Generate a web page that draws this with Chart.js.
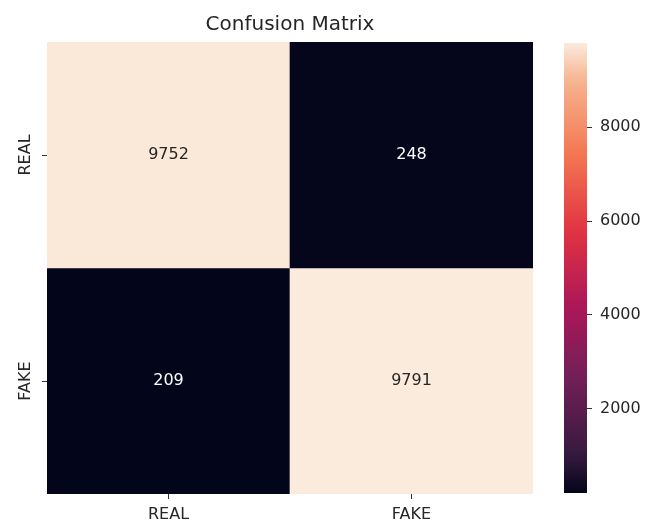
<!DOCTYPE html>
<html>
<head>
<meta charset="utf-8">
<script src="https://cdn.jsdelivr.net/npm/chart.js@4/dist/chart.umd.min.js"></script>
<style>
  html, body { margin: 0; padding: 0; background: #ffffff; }
  #wrap { position: relative; width: 657px; height: 524px; overflow: hidden; }
  #heat { position: absolute; left: 0; top: 0; }
  #cbar { position: absolute; left: 540px; top: 0; }
</style>
</head>
<body>
<div id="wrap">
  <canvas id="heat" width="580" height="524"></canvas>
  <canvas id="cbar" width="117" height="524"></canvas>
</div>
<script>
// Confusion matrix: rows = true class, columns = predicted class
const classLabels = ['REAL', 'FAKE'];
const rowReal = [9752, 248];
const rowFake = [209, 9791];
const matrixRows = [rowReal, rowFake];
const colorbarTicks = [2000, 4000, 6000, 8000];
const chartTitle = 'Confusion Matrix';

const FONT = "'DejaVu Sans', 'Liberation Sans', sans-serif";
const TEXT_DARK = '#262626';

const allValues = matrixRows.flat();
const vMin = Math.min(...allValues);
const vMax = Math.max(...allValues);

// "rocket" colour map stops
const rocketStops = [
  [0.000, [3, 5, 26]],
  [0.083, [53, 25, 62]],
  [0.250, [112, 31, 87]],
  [0.417, [173, 23, 89]],
  [0.583, [225, 51, 66]],
  [0.750, [243, 118, 81]],
  [0.917, [246, 180, 143]],
  [1.000, [250, 235, 221]]
];

function rocketRGB(t) {
  t = Math.max(0, Math.min(1, t));
  for (let i = 1; i < rocketStops.length; i++) {
    const [p1, c1] = rocketStops[i];
    const [p0, c0] = rocketStops[i - 1];
    if (t <= p1) {
      const f = (t - p0) / (p1 - p0);
      return c0.map((c, k) => Math.round(c + (c1[k] - c) * f));
    }
  }
  return rocketStops[rocketStops.length - 1][1];
}
const toCss = c => `rgb(${c[0]},${c[1]},${c[2]})`;
const norm = v => (v - vMin) / (vMax - vMin);

function luminance(c) {
  const lin = c.map(x => {
    x /= 255;
    return x <= 0.03928 ? x / 12.92 : Math.pow((x + 0.055) / 1.055, 2.4);
  });
  return 0.2126 * lin[0] + 0.7152 * lin[1] + 0.0722 * lin[2];
}

// One dataset per row; each cell is a floating bar spanning [row, row + 1]
const datasets = matrixRows.map((row, r) => ({
  label: classLabels[r],
  data: row.map(() => [r, r + 1]),
  values: row,
  backgroundColor: row.map(v => toCss(rocketRGB(norm(v)))),
  borderWidth: 0,
  barPercentage: 1,
  categoryPercentage: 1
}));

// Writes each cell's count at its centre
const cellLabels = {
  id: 'cellLabels',
  afterDatasetsDraw(chart) {
    const ctx = chart.ctx;
    ctx.save();
    ctx.font = `16px ${FONT}`;
    ctx.textAlign = 'center';
    ctx.textBaseline = 'middle';
    chart.data.datasets.forEach((ds, di) => {
      chart.getDatasetMeta(di).data.forEach((el, i) => {
        const v = ds.values[i];
        const c = rocketRGB(norm(v));
        ctx.fillStyle = luminance(c) > 0.408 ? TEXT_DARK : '#ffffff';
        const p = el.getCenterPoint();
        ctx.fillText(String(v), p.x, p.y);
      });
    });
    ctx.restore();
  }
};

new Chart(document.getElementById('heat'), {
  type: 'bar',
  data: { labels: classLabels, datasets },
  options: {
    responsive: false,
    devicePixelRatio: 1,
    animation: false,
    layout: { padding: { left: 0, right: 47, top: 0, bottom: 0 } },
    plugins: {
      legend: { display: false },
      tooltip: { enabled: false },
      title: {
        display: true,
        fullSize: false,
        text: chartTitle,
        color: TEXT_DARK,
        font: { family: FONT, size: 20, weight: 'normal' },
        padding: { top: 13, bottom: 5 }
      }
    },
    scales: {
      x: {
        type: 'category',
        stacked: true,
        offset: true,
        border: { display: false },
        grid: { offset: false, drawOnChartArea: false, drawTicks: true, tickLength: 5, color: '#333333', lineWidth: 1 },
        ticks: { color: TEXT_DARK, font: { family: FONT, size: 16 }, padding: 6, maxRotation: 0, minRotation: 0 },
        afterFit(s) { s.height = 30; }
      },
      y: {
        type: 'linear',
        min: 0,
        max: 2,
        reverse: true,
        border: { display: false },
        afterBuildTicks(s) { s.ticks = classLabels.map((_, i) => ({ value: i + 0.5 })); },
        grid: { drawOnChartArea: false, drawTicks: true, tickLength: 5, color: '#333333', lineWidth: 1 },
        ticks: {
          color: TEXT_DARK,
          font: { family: FONT, size: 16 },
          minRotation: 90,
          maxRotation: 90,
          crossAlign: 'center',
          padding: -4,
          callback: v => classLabels[Math.floor(v)]
        },
        afterFit(s) { s.width = 47; }
      }
    }
  },
  plugins: [cellLabels]
});

// Colour bar: a single floating bar from vMin to vMax filled with the colour map
new Chart(document.getElementById('cbar'), {
  type: 'bar',
  data: {
    labels: [''],
    datasets: [{
      data: [[vMin, vMax]],
      borderWidth: 0,
      barPercentage: 1,
      categoryPercentage: 1,
      backgroundColor(ctx) {
        const chart = ctx.chart;
        const ys = chart.scales.y;
        if (!chart.chartArea || !ys) return toCss(rocketRGB(0.5));
        const y0 = ys.getPixelForValue(vMin);
        const y1 = ys.getPixelForValue(vMax);
        const g = chart.ctx.createLinearGradient(0, y0, 0, y1);
        for (let i = 0; i <= 40; i++) {
          g.addColorStop(i / 40, toCss(rocketRGB(i / 40)));
        }
        return g;
      }
    }]
  },
  options: {
    responsive: false,
    devicePixelRatio: 1,
    animation: false,
    layout: { padding: { left: 24, right: 0, top: 43, bottom: 31 } },
    plugins: { legend: { display: false }, tooltip: { enabled: false } },
    scales: {
      x: { display: false },
      y: {
        type: 'linear',
        position: 'right',
        min: vMin,
        max: vMax,
        border: { display: false },
        afterBuildTicks(s) { s.ticks = colorbarTicks.map(v => ({ value: v })); },
        grid: { drawOnChartArea: false, drawTicks: true, tickLength: 5, color: '#333333', lineWidth: 1 },
        ticks: { color: TEXT_DARK, font: { family: FONT, size: 16 }, padding: 8, callback: v => String(v) },
        afterFit(s) { s.width = 70; }
      }
    }
  }
});
</script>
</body>
</html>
